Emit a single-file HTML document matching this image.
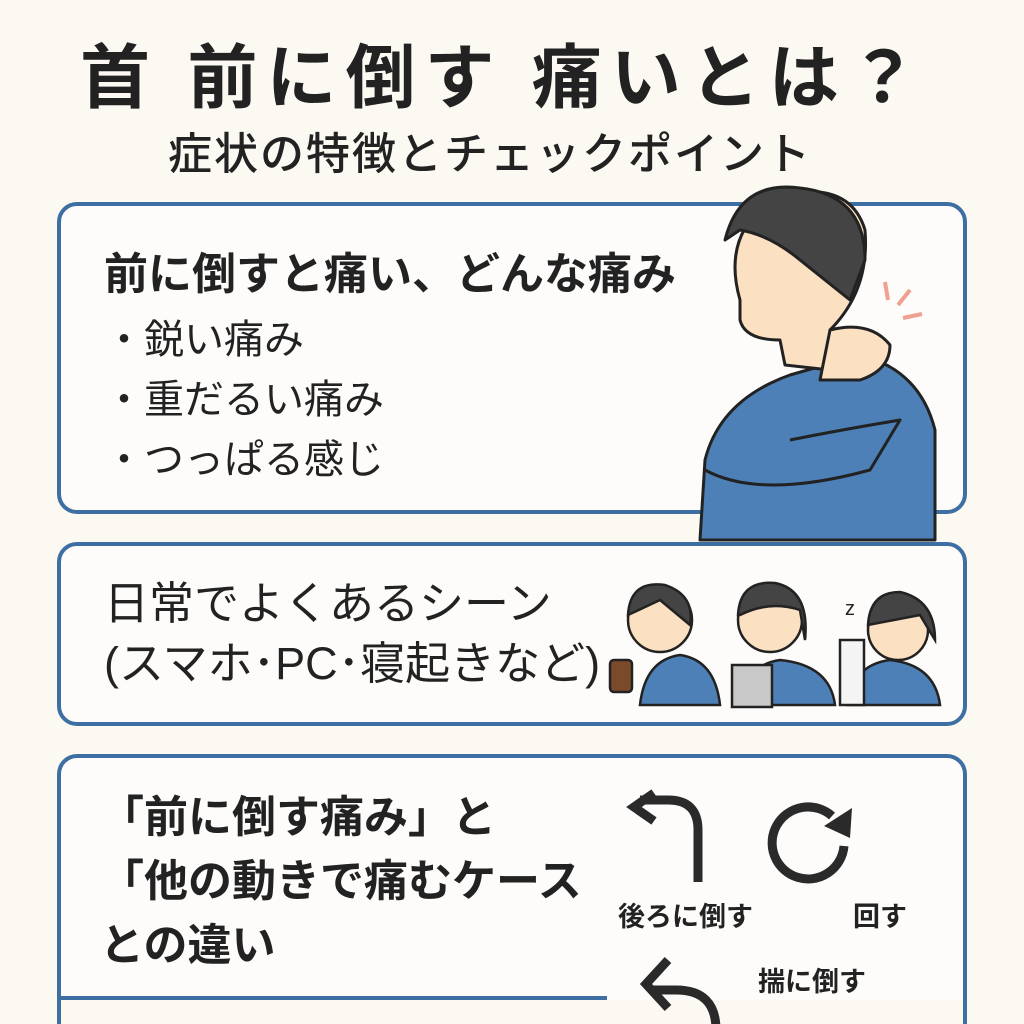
<!DOCTYPE html>
<html style="overflow:hidden;width:1024px;height:1024px"><head><meta charset="utf-8"><style>
body{margin:0;width:1024px;height:1024px;background:#fcf8f2;overflow:hidden;position:relative;font-family:"Liberation Sans","Noto Sans CJK JP",sans-serif;color:#222}
.t{position:absolute;white-space:nowrap}
.box{position:absolute;border:4px solid #3d6fa3;border-radius:20px;background:#fdfcfa;box-sizing:border-box}
</style></head><body>
<div class="t" style="left:80px;top:22px;font-size:70px;font-weight:bold;letter-spacing:9px">首 前に倒す 痛いとは？</div>
<div class="t" style="left:168px;top:118px;font-size:44px;font-weight:500;letter-spacing:2px">症状の特徴とチェックポイント</div>

<div class="box" style="left:57px;top:202px;width:910px;height:312px"></div>
<div class="box" style="left:57px;top:542px;width:910px;height:184px"></div>
<div class="box" style="left:57px;top:754px;width:910px;height:280px;border-bottom:none;border-bottom-left-radius:0;border-bottom-right-radius:0"></div>
<div style="position:absolute;left:57px;top:996px;width:550px;height:4px;background:#3d6fa3"></div>
<div style="position:absolute;left:61px;top:1000px;width:902px;height:30px;background:#fcf8f2"></div>
<div style="position:absolute;left:963px;top:996px;width:4px;height:30px;background:#3d6fa3"></div>

<div class="t" style="left:104px;top:238px;font-size:44px;font-weight:bold">前に倒すと痛い、どんな痛み</div>
<div class="t" style="left:104px;top:310px;font-size:40px;line-height:60px">・鋭い痛み<br>・重だるい痛み<br>・つっぱる感じ</div>

<div class="t" style="left:104px;top:574px;font-size:45px;line-height:60px">日常でよくあるシーン<br>(スマホ･PC･寝起きなど)</div>

<div class="t" style="left:100px;top:786px;font-size:44px;line-height:64px;font-weight:bold">「前に倒す痛み」と<br>「他の動きで痛むケース<br>との違い</div>

<div class="t" style="left:618px;top:895px;font-size:27px;font-weight:bold">後ろに倒す</div>
<div class="t" style="left:853px;top:895px;font-size:27px;font-weight:bold">回す</div>
<div class="t" style="left:758px;top:960px;font-size:27px;font-weight:bold">揣に倒す</div>

<svg width="1024" height="1024" style="position:absolute;left:0;top:0">
<g fill="none" stroke="#2a2a2a" stroke-width="9">
<path d="M698 882 V830 q0-30-30-30 H640"/><path d="M654 793 l-20 14 20 14" stroke-linejoin="miter"/>
<path d="M832 816 a36 36 0 1 0 12 30"/>
<path d="M716 1030 q0-40-40-40 H652"/><path d="M668 960 l-22 24 22 24"/>
</g>
<path d="M852 808 l-2 30 -26 -12z" fill="#2a2a2a"/>
<g stroke="#222" stroke-width="3" stroke-linejoin="round">
<path d="M700 540 L705 460 Q720 400 790 375 L860 355 Q920 370 935 430 L935 540 Z" fill="#4e80b8"/>
<path d="M705 470 Q760 500 870 470 L900 420 Q840 430 790 440" fill="#4e80b8"/>
<path d="M740 300 Q720 230 780 195 Q850 180 865 230 Q870 290 830 330 L830 370 L785 365 L780 340 Q745 340 740 320 Z" fill="#fbe0c2"/>
<path d="M725 240 Q740 180 800 188 Q865 195 865 260 L850 300 L800 260 Q770 235 740 230 Z" fill="#444"/>
<path d="M830 330 Q870 320 890 345 Q890 370 860 380 L820 380 Z" fill="#fbe0c2"/>
</g>
<g stroke="#f0a090" stroke-width="4"><line x1="885" y1="282" x2="888" y2="300"/><line x1="910" y1="290" x2="898" y2="305"/><line x1="903" y1="318" x2="922" y2="314"/></g>
<g stroke="#222" stroke-width="2.5">
<path d="M640 705 Q645 660 680 655 Q715 660 720 705Z" fill="#4e80b8"/>
<circle cx="660" cy="620" r="32" fill="#fbe0c2"/><path d="M628 615 Q630 580 665 585 Q695 595 690 625 L660 600Z" fill="#444"/>
<rect x="610" y="660" width="22" height="32" rx="4" fill="#7a4a2a"/>
<path d="M740 705 Q745 665 780 660 Q830 665 835 705Z" fill="#4e80b8"/>
<circle cx="770" cy="620" r="32" fill="#fbe0c2"/><path d="M738 615 Q740 580 775 583 Q810 590 805 640 L800 610 Q770 600 740 615Z" fill="#444"/>
<rect x="732" y="665" width="40" height="42" fill="#c8c8c8"/>
<path d="M848 705 Q852 665 890 660 Q935 665 940 705Z" fill="#4e80b8"/>
<rect x="840" y="640" width="24" height="65" fill="#f4f4f4"/>
<circle cx="898" cy="630" r="30" fill="#fbe0c2"/><path d="M868 625 Q870 592 900 592 Q935 600 935 640 L920 615Z" fill="#444"/>
</g>
<text x="845" y="615" font-size="20" font-family="Liberation Sans" fill="#222">z</text>
</svg>
</body></html>
